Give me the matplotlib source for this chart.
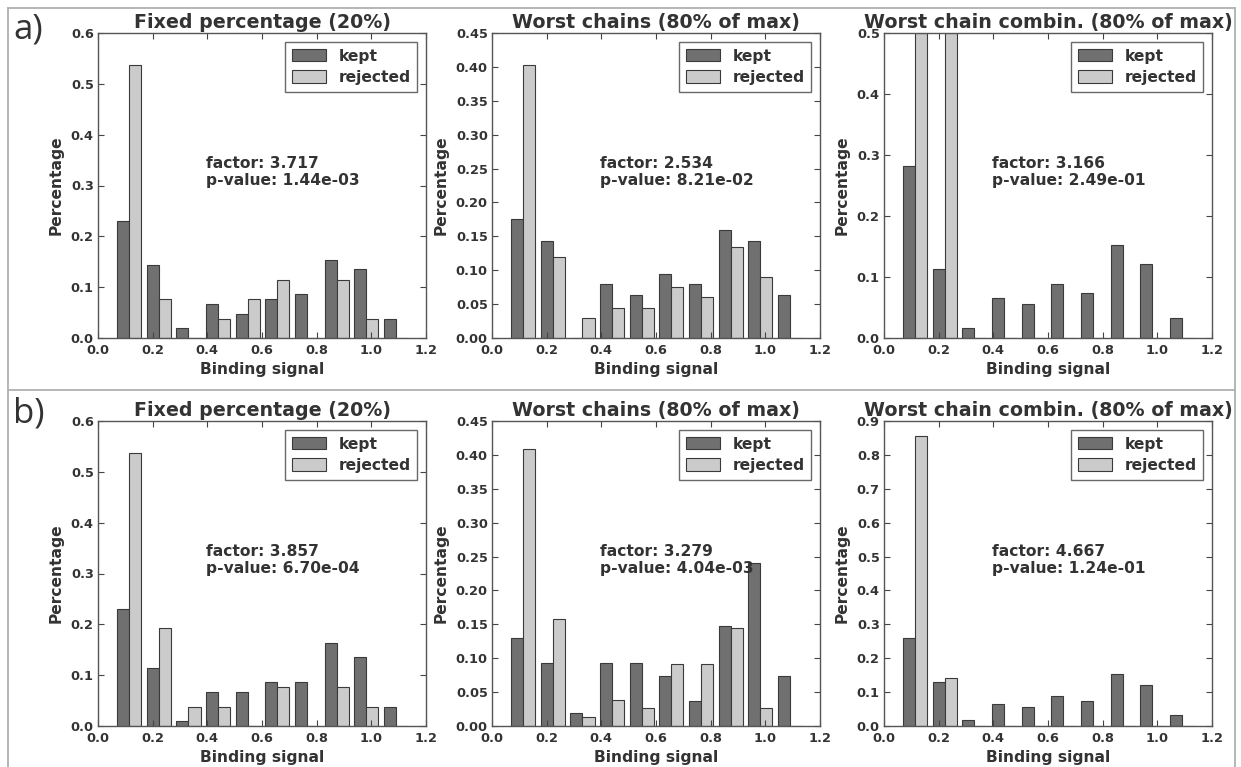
import numpy as np
import matplotlib
matplotlib.use("Agg")
import matplotlib.pyplot as plt
from matplotlib.lines import Line2D

# bin centres of the binding signal histograms (same for all panels)
bin_centers = [0.114, 0.222, 0.331, 0.439, 0.548, 0.656, 0.765, 0.873, 0.982, 1.090]

titles = ["Fixed percentage (20%)", "Worst chains (80% of max)", "Worst chain combin. (80% of max)"]
row_labels = ["a)", "b)"]

# row a
kept_a1 = [0.231, 0.144, 0.019, 0.067, 0.048, 0.077, 0.087, 0.154, 0.135, 0.038]
rej_a1 = [0.538, 0.077, 0.0, 0.038, 0.077, 0.115, 0.0, 0.115, 0.038, 0.0]
kept_a2 = [0.175, 0.143, 0.0, 0.079, 0.063, 0.095, 0.079, 0.159, 0.143, 0.063]
rej_a2 = [0.403, 0.119, 0.030, 0.045, 0.045, 0.075, 0.060, 0.134, 0.090, 0.0]
kept_a3 = [0.282, 0.113, 0.016, 0.065, 0.056, 0.088, 0.073, 0.153, 0.121, 0.032]
rej_a3 = [0.5, 0.5, 0.0, 0.0, 0.0, 0.0, 0.0, 0.0, 0.0, 0.0]

# row b
kept_b1 = [0.231, 0.115, 0.010, 0.067, 0.067, 0.087, 0.087, 0.163, 0.135, 0.038]
rej_b1 = [0.538, 0.192, 0.038, 0.038, 0.0, 0.077, 0.0, 0.077, 0.038, 0.0]
kept_b2 = [0.130, 0.093, 0.019, 0.093, 0.093, 0.074, 0.037, 0.148, 0.241, 0.074]
rej_b2 = [0.408, 0.158, 0.013, 0.039, 0.026, 0.092, 0.092, 0.145, 0.026, 0.0]
kept_b3 = [0.260, 0.131, 0.017, 0.066, 0.057, 0.090, 0.074, 0.154, 0.122, 0.033]
rej_b3 = [0.857, 0.143, 0.0, 0.0, 0.0, 0.0, 0.0, 0.0, 0.0, 0.0]

factors = [["3.717", "2.534", "3.166"], ["3.857", "3.279", "4.667"]]
pvalues = [["1.44e-03", "8.21e-02", "2.49e-01"], ["6.70e-04", "4.04e-03", "1.24e-01"]]

y_max = [[0.6, 0.45, 0.5], [0.6, 0.45, 0.9]]
y_step = [[0.1, 0.05, 0.1], [0.1, 0.05, 0.1]]

kept = [[kept_a1, kept_a2, kept_a3], [kept_b1, kept_b2, kept_b3]]
rejected = [[rej_a1, rej_a2, rej_a3], [rej_b1, rej_b2, rej_b3]]

W, H = 1241, 767
txt = '#333333'
plt.rcParams['font.family'] = 'DejaVu Sans'
plt.rcParams['font.weight'] = 'bold'
plt.rcParams['text.color'] = txt
plt.rcParams['axes.labelcolor'] = txt
plt.rcParams['xtick.color'] = '#444444'
plt.rcParams['ytick.color'] = '#444444'
plt.rcParams['xtick.labelcolor'] = txt
plt.rcParams['ytick.labelcolor'] = txt


def panel(ax, k, r, title, fac, pval, ymax, ystep):
    w = 0.044
    x = np.array(bin_centers)
    ax.bar(x - w / 2, k, w, color='#707070', edgecolor='#3a3a3a', linewidth=0.8, label='kept')
    ax.bar(x + w / 2, r, w, color='#cbcbcb', edgecolor='#3a3a3a', linewidth=0.8, label='rejected')
    ax.set_xlim(0, 1.2)
    ax.set_ylim(0, ymax)
    ax.set_xticks(np.arange(0, 1.21, 0.2))
    ticks = np.arange(0, ymax + 1e-9, ystep)
    ax.set_yticks(ticks)
    if ystep < 0.1:
        ax.set_yticklabels([f'{v:.2f}' for v in ticks])
    else:
        ax.set_yticklabels([f'{v:.1f}' for v in ticks])
    ax.tick_params(direction='in', top=True, right=True, length=4, width=0.8,
                   labelsize=9.3, pad=3)
    ax.tick_params(axis='x', pad=4)
    for s in ax.spines.values():
        s.set_color('#555555')
        s.set_linewidth(1.0)
    ax.set_title(title, fontsize=13.7, fontweight='bold', pad=3.5)
    ax.set_xlabel('Binding signal', fontsize=11.2, fontweight='bold', labelpad=4)
    ax.set_ylabel('Percentage', fontsize=11.2, fontweight='bold', labelpad=5)
    ax.text(0.33, 0.545, 'factor: ' + fac + '\np-value: ' + pval, transform=ax.transAxes,
            fontsize=11.2, fontweight='bold', va='center', ha='left', linespacing=1.15)
    leg = ax.legend(loc='upper right', fancybox=False, fontsize=11.2, borderaxespad=0.55,
                    handlelength=2.2, handleheight=0.85, handletextpad=0.8,
                    borderpad=0.45, labelspacing=0.4)
    leg.get_frame().set_edgecolor('#444444')
    leg.get_frame().set_linewidth(1.0)


fig = plt.figure(figsize=(W / 100, H / 100), dpi=100)

lefts = [98, 492, 884]
tops = [33, 421]
for i in range(2):
    for j in range(3):
        ax = fig.add_axes([lefts[j] / W, (H - tops[i] - 305) / H, 328 / W, 305 / H])
        panel(ax, kept[i][j], rejected[i][j], titles[j], factors[i][j], pvalues[i][j],
              y_max[i][j], y_step[i][j])

# row labels
fig.text(13 / W, 1 - 12 / H, row_labels[0], fontsize=25, fontweight='normal',
         family='Open Sans', va='top', ha='left', color='#333333')
fig.text(13 / W, 1 - 397 / H, row_labels[1], fontsize=25, fontweight='normal',
         family='Open Sans', va='top', ha='left', color='#333333')

# frame around the figure and separator between rows
fc = '#b0b0b0'
fig.add_artist(Line2D([7.5 / W, 7.5 / W], [0, 1 - 7.5 / H], color=fc, lw=1.3, transform=fig.transFigure))
fig.add_artist(Line2D([1235 / W, 1235 / W], [0, 1 - 7.5 / H], color=fc, lw=1.3, transform=fig.transFigure))
fig.add_artist(Line2D([7.5 / W, 1235 / W], [1 - 7.5 / H, 1 - 7.5 / H], color=fc, lw=1.3, transform=fig.transFigure))
fig.add_artist(Line2D([7.5 / W, 1235 / W], [1 - 390 / H, 1 - 390 / H], color=fc, lw=1.3, transform=fig.transFigure))

fig.savefig('out.png', dpi=100)
